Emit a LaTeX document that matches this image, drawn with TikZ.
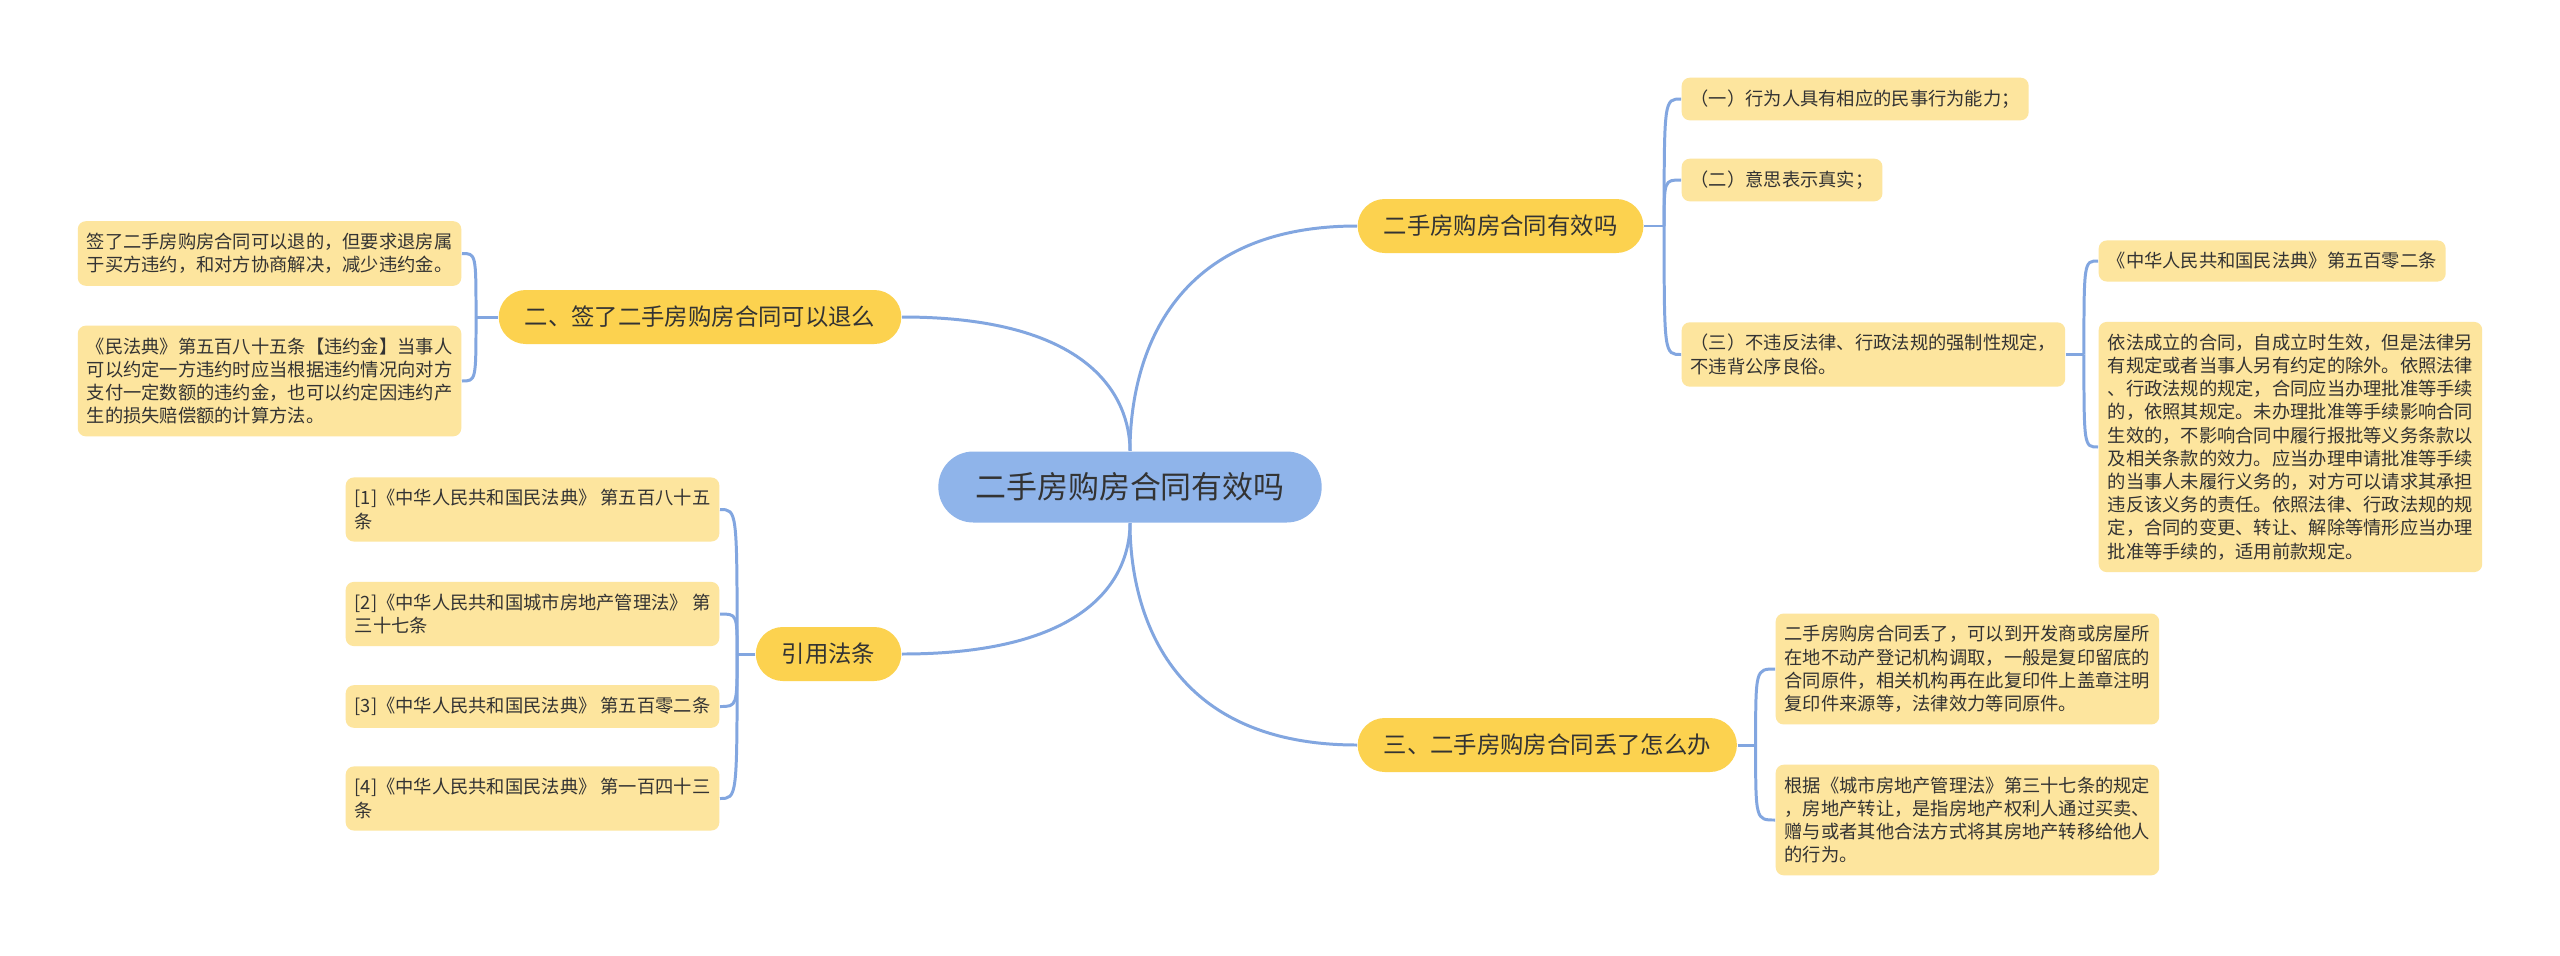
\documentclass[tikz,border=0pt]{standalone}
\usepackage{fontspec}
\setmainfont{Noto Sans CJK SC}
\usepackage{tikz}

\definecolor{rootblue}{HTML}{8FB4EA}
\definecolor{branchyellow}{HTML}{FCD24F}
\definecolor{leafyellow}{HTML}{FDE59E}
\definecolor{linkblue}{HTML}{82A6E0}
\definecolor{textgray}{HTML}{333333}

\begin{document}
\begin{tikzpicture}[
  every node/.style={text=textgray},
  root/.style={fill=rootblue, rounded corners=0.35cm, minimum height=0.71cm,
    inner xsep=0.37cm, font=\fontsize{8.8pt}{10pt}\selectfont},
  branch/.style={fill=branchyellow, rounded corners=0.27cm, minimum height=0.54cm,
    inner xsep=0.26cm, font=\fontsize{6.65pt}{8pt}\selectfont},
  leaf/.style={fill=leafyellow, rounded corners=0.08cm, inner xsep=0.09cm,
    inner ysep=0.12cm, align=left, font=\fontsize{5.2pt}{6.6pt}\selectfont},
  link/.style={draw=linkblue, line width=0.85pt}]
\fill[white] (0,0) rectangle (25.60,-9.55);

% centre and main branches
\node[root] (root) at (11.30,-4.87) {二手房购房合同有效吗};
\node[branch, anchor=west] (valid) at (13.57,-2.26) {二手房购房合同有效吗};
\node[branch, anchor=west] (lost) at (13.57,-7.45) {三、二手房购房合同丢了怎么办};
\node[branch, anchor=east] (refund) at (9.02,-3.17) {二、签了二手房购房合同可以退么};
\node[branch, anchor=east] (cite) at (9.02,-6.54) {引用法条};

\draw[link] (root.north) .. controls +(0,0.68) and +(-2.04,0) .. (valid.west);
\draw[link] (root.north) .. controls +(0,0.40) and +(2.05,0) .. (refund.east);
\draw[link] (root.south) .. controls +(0,-0.40) and +(2.05,0) .. (cite.east);
\draw[link] (root.south) .. controls +(0,-0.67) and +(-2.04,0) .. (lost.west);

% right side
\node[leaf, anchor=west] (valid1) at (16.81,-0.99) {（一）行为人具有相应的民事行为能力；};
\node[leaf, anchor=west] (valid2) at (16.81,-1.80) {（二）意思表示真实；};
\node[leaf, anchor=west] (valid3) at (16.81,-3.545)
  {（三）不违反法律、行政法规的强制性规定，\\不违背公序良俗。};
\node[leaf, anchor=west] (art502) at (20.98,-2.61) {《中华人民共和国民法典》第五百零二条};
\node[leaf, anchor=west] (art502txt) at (20.98,-4.47)
  {依法成立的合同，自成立时生效，但是法律另\\有规定或者当事人另有约定的除外。依照法律\\、行政法规的规定，合同应当办理批准等手续\\的，依照其规定。未办理批准等手续影响合同\\生效的，不影响合同中履行报批等义务条款以\\及相关条款的效力。应当办理申请批准等手续\\的当事人未履行义务的，对方可以请求其承担\\违反该义务的责任。依照法律、行政法规的规\\定，合同的变更、转让、解除等情形应当办理\\批准等手续的，适用前款规定。};
\node[leaf, anchor=west] (lost1) at (17.75,-6.69)
  {二手房购房合同丢了，可以到开发商或房屋所\\在地不动产登记机构调取，一般是复印留底的\\合同原件，相关机构再在此复印件上盖章注明\\复印件来源等，法律效力等同原件。};
\node[leaf, anchor=west] (lost2) at (17.75,-8.20)
  {根据《城市房地产管理法》第三十七条的规定\\，房地产转让，是指房地产权利人通过买卖、\\赠与或者其他合法方式将其房地产转移给他人\\的行为。};

% left side
\node[leaf, anchor=east] (refund1) at (4.62,-2.535)
  {签了二手房购房合同可以退的，但要求退房属\\于买方违约，和对方协商解决，减少违约金。};
\node[leaf, anchor=east] (refund2) at (4.62,-3.81)
  {《民法典》第五百八十五条【违约金】当事人\\可以约定一方违约时应当根据违约情况向对方\\支付一定数额的违约金，也可以约定因违约产\\生的损失赔偿额的计算方法。};
\node[leaf, anchor=east] (cite1) at (7.20,-5.095) {[1]《中华人民共和国民法典》 第五百八十五\\条};
\node[leaf, anchor=east] (cite2) at (7.20,-6.14) {[2]《中华人民共和国城市房地产管理法》 第\\三十七条};
\node[leaf, anchor=east] (cite3) at (7.20,-7.065) {[3]《中华人民共和国民法典》 第五百零二条};
\node[leaf, anchor=east] (cite4) at (7.20,-7.985) {[4]《中华人民共和国民法典》 第一百四十三\\条};

% brackets
\coordinate (validj) at ([xshift=0.20cm]valid.east);
\coordinate (art502j) at ([xshift=0.18cm]valid3.east);
\coordinate (lostj) at ([xshift=0.18cm]lost.east);
\coordinate (refundj) at ([xshift=-0.22cm]refund.west);
\coordinate (citej) at ([xshift=-0.18cm]cite.west);

\draw[link] (valid.east) -- (validj);
\draw[link] (valid3.east) -- (art502j);
\draw[link] (lost.east) -- (lostj);
\draw[link] (refund.west) -- (refundj);
\draw[link] (cite.west) -- (citej);

\foreach \leaf in {valid1,valid2,valid3}
  \draw[link] (validj) .. controls (validj |- \leaf.west) and (validj |- \leaf.west) .. (\leaf.west);
\foreach \leaf in {art502,art502txt}
  \draw[link] (art502j) .. controls (art502j |- \leaf.west) and (art502j |- \leaf.west) .. (\leaf.west);
\foreach \leaf in {lost1,lost2}
  \draw[link] (lostj) .. controls (lostj |- \leaf.west) and (lostj |- \leaf.west) .. (\leaf.west);
\foreach \leaf in {refund1,refund2}
  \draw[link] (refundj) .. controls (refundj |- \leaf.east) and (refundj |- \leaf.east) .. (\leaf.east);
\foreach \leaf in {cite1,cite2,cite3,cite4}
  \draw[link] (citej) .. controls (citej |- \leaf.east) and (citej |- \leaf.east) .. (\leaf.east);

\end{tikzpicture}
\end{document}
